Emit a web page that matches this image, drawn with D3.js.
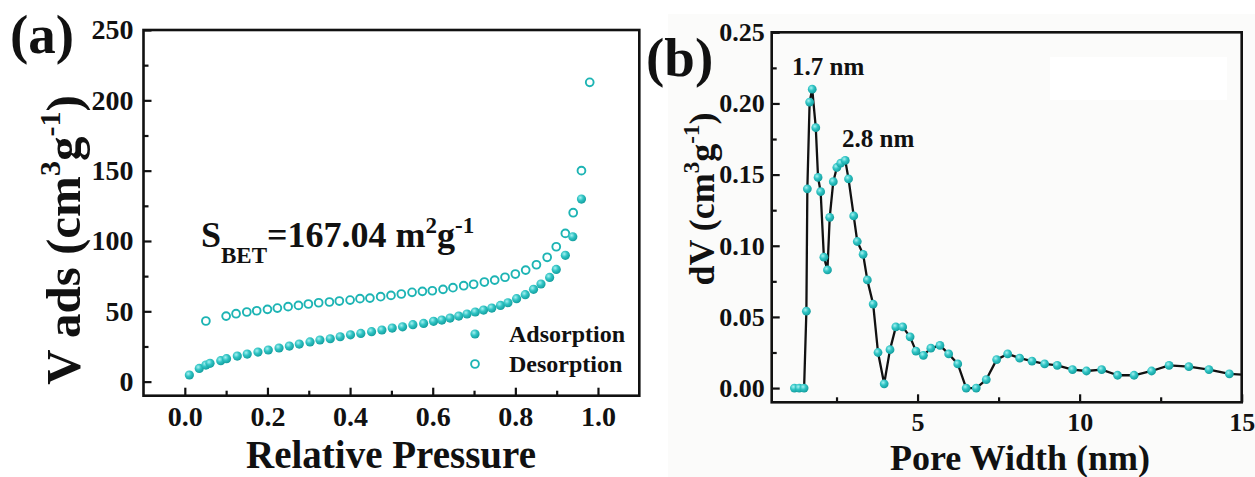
<!DOCTYPE html>
<html>
<head>
<meta charset="utf-8">
<script src="https://cdn.jsdelivr.net/npm/d3@7"></script>
<style>
  body { margin: 0; background: #fff; }
  svg { display: block; }
  text { font-family: "Liberation Serif", "Times New Roman", serif; font-weight: bold; fill: #111; }
</style>
</head>
<body>
<svg id="fig" width="1255" height="477"></svg>
<script>
// ---- (a) N2 isotherm ----
const adsP = [0.011,0.035,0.051,0.061,0.087,0.101,0.127,0.151,0.177,0.202,0.228,0.253,0.277,0.303,0.327,0.352,0.376,0.401,0.426,0.452,0.477,0.502,0.527,0.552,0.578,0.602,0.622,0.642,0.663,0.683,0.703,0.723,0.743,0.764,0.782,0.803,0.824,0.844,0.862,0.883,0.899,0.921,0.939,0.960];
const adsV = [4.7,9.4,11.8,13.0,14.9,16.3,18.2,19.6,21.0,22.5,23.9,25.3,26.7,28.2,29.6,30.5,31.9,33.3,34.3,35.5,36.7,38.1,39.0,40.5,41.4,42.9,43.8,45.2,46.6,48.1,49.5,50.9,52.3,54.2,56.1,59.0,61.8,65.6,69.4,74.1,79.8,89.8,103.0,129.8];
const desP = [0.051,0.100,0.124,0.150,0.174,0.200,0.224,0.250,0.275,0.299,0.324,0.350,0.374,0.400,0.424,0.448,0.474,0.499,0.524,0.550,0.575,0.599,0.625,0.649,0.675,0.699,0.725,0.750,0.775,0.800,0.825,0.851,0.877,0.899,0.921,0.940,0.960,0.980];
const desV = [43.1,46.6,48.3,49.5,50.4,51.4,52.3,53.3,54.2,55.2,56.1,56.6,57.3,58.0,59.0,59.4,60.4,61.3,62.3,63.5,64.2,64.6,65.6,66.8,68.2,69.2,70.8,72.2,74.2,76.5,79.3,83.1,88.4,95.9,105.4,120.1,150.0,212.8];
const isoXTicks = [0.0,0.2,0.4,0.6,0.8,1.0];
const isoXMinor = [0.1,0.3,0.5,0.7,0.9];
const isoYTicks = [0,50,100,150,200,250];
const isoYMinor = [25,75,125,175,225];
const legendNames = ["Adsorption","Desorption"];

// ---- (b) pore size distribution ----
const poreW = [1.20,1.35,1.50,1.57,1.60,1.67,1.75,1.86,1.93,2.01,2.11,2.22,2.29,2.40,2.51,2.63,2.77,2.87,3.03,3.14,3.32,3.45,3.63,3.78,3.97,4.15,4.33,4.54,4.77,4.95,5.18,5.41,5.69,5.96,6.24,6.50,6.81,7.12,7.44,7.78,8.15,8.53,8.92,9.31,9.78,10.21,10.68,11.17,11.68,12.22,12.76,13.37,13.99,14.62,15.25];
const poreDV = [0,0,0,0.054,0.140,0.201,0.210,0.183,0.148,0.138,0.092,0.083,0.120,0.145,0.155,0.158,0.160,0.147,0.121,0.103,0.094,0.076,0.059,0.025,0.003,0.027,0.043,0.043,0.036,0.026,0.023,0.028,0.030,0.024,0.017,0,0,0.006,0.020,0.024,0.021,0.019,0.017,0.016,0.013,0.012,0.013,0.009,0.009,0.012,0.016,0.015,0.013,0.010,0.009];
const psdXTicks = [5,10,15];
const psdXMinor = [2.5,7.5,12.5];
const psdYTicks = [0,0.05,0.10,0.15,0.20,0.25];
const psdYMinor = [0.025,0.075,0.125,0.175,0.225];
const peakLabels = ["1.7 nm","2.8 nm"];

const TEAL = "#1db4b4";
const svg = d3.select("#fig");

// sphere-like fill for solid markers
const defs = svg.append("defs");
const grad = defs.append("radialGradient").attr("id","ball")
  .attr("cx","0.38").attr("cy","0.35").attr("r","0.7");
grad.append("stop").attr("offset","0%").attr("stop-color","#a6f1f1");
grad.append("stop").attr("offset","45%").attr("stop-color","#30c4c4");
grad.append("stop").attr("offset","100%").attr("stop-color","#109a9a");

// very faint tinted backdrop behind panel (b)
svg.append("rect").attr("x",668).attr("y",14).attr("width",587).attr("height",463).attr("fill","#fbfbfa");
svg.append("rect").attr("x",1050).attr("y",57).attr("width",177).attr("height",43).attr("fill","#ffffff");

function frameAxes(g, x, y, opt) {
  const [x0, x1] = x.range();
  const [y0, y1] = y.range();
  const bottom = g.append("g").attr("transform",`translate(0,${y0})`)
    .call(d3.axisBottom(x).tickValues(opt.xTicks).tickFormat(opt.xFmt).tickSize(-8).tickPadding(10));
  bottom.select(".domain").remove();
  bottom.selectAll("text").attr("font-size", opt.fs).attr("font-family",null);
  const bMin = g.append("g").attr("transform",`translate(0,${y0})`)
    .call(d3.axisBottom(x).tickValues(opt.xMinor).tickFormat("").tickSize(-5));
  bMin.select(".domain").remove();

  const left = g.append("g").attr("transform",`translate(${x0},0)`)
    .call(d3.axisLeft(y).tickValues(opt.yTicks).tickFormat(opt.yFmt).tickSize(-8).tickPadding(opt.yPad));
  left.select(".domain").remove();
  left.selectAll("text").attr("font-size", opt.fs).attr("font-family",null);
  const lMin = g.append("g").attr("transform",`translate(${x0},0)`)
    .call(d3.axisLeft(y).tickValues(opt.yMinor).tickFormat("").tickSize(-5));
  lMin.select(".domain").remove();

  g.selectAll(".tick line").attr("stroke","#111").attr("stroke-width",2.2);
  g.selectAll(".tick text").attr("fill","#111");
  g.append("rect").attr("x",x0).attr("y",y1).attr("width",x1-x0).attr("height",y0-y1)
    .attr("fill","none").attr("stroke","#111").attr("stroke-width",2.6);
}

// ================= panel (a) =================
const xa = d3.scaleLinear().domain([-0.1,1.1]).range([143.5,639.3]);
const ya = d3.scaleLinear().domain([-10,250]).range([395.7,30]);
const ga = svg.append("g");
frameAxes(ga, xa, ya, {xTicks: isoXTicks, xMinor: isoXMinor, xFmt: d3.format(".1f"),
  yTicks: isoYTicks, yMinor: isoYMinor, yFmt: d3.format("d"), fs: 28, yPad: 10});

const adsData = adsP.map((p,i)=>({p, v: adsV[i]}));
const desData = desP.map((p,i)=>({p, v: desV[i]}));
ga.append("g").selectAll("circle").data(desData).join("circle")
  .attr("cx",d=>xa(d.p)).attr("cy",d=>ya(d.v)).attr("r",3.9)
  .attr("fill","#fff").attr("stroke",TEAL).attr("stroke-width",1.9);
ga.append("g").selectAll("circle").data(adsData).join("circle")
  .attr("cx",d=>xa(d.p)).attr("cy",d=>ya(d.v)).attr("r",4.6)
  .attr("fill","url(#ball)");

// legend
const leg = ga.append("g");
leg.append("circle").attr("cx",475).attr("cy",334).attr("r",4.6).attr("fill","url(#ball)");
leg.append("circle").attr("cx",475).attr("cy",364).attr("r",3.9).attr("fill","#fff").attr("stroke",TEAL).attr("stroke-width",1.9);
leg.append("text").attr("x",509).attr("y",342).attr("font-size",24).text(legendNames[0]);
leg.append("text").attr("x",509).attr("y",372).attr("font-size",24).text(legendNames[1]);

// surface-area annotation
const sb = ga.append("text").attr("x",201).attr("y",247).attr("font-size",36);
sb.append("tspan").text("S");
sb.append("tspan").attr("font-size",23).attr("dy",16).text("BET");
sb.append("tspan").attr("dy",-16).text("=167.04 m");
sb.append("tspan").attr("font-size",23).attr("dy",-14).text("2");
sb.append("tspan").attr("dy",14).text("g");
sb.append("tspan").attr("font-size",23).attr("dy",-14).text("-1");

// axis titles
ga.append("text").attr("x",391).attr("y",468).attr("text-anchor","middle").attr("font-size",39).text("Relative Pressure");
const yta = ga.append("text").attr("transform","translate(80,240) rotate(-90)").attr("text-anchor","middle").attr("font-size",49);
yta.append("tspan").text("V ads (cm");
yta.append("tspan").attr("font-size",30).attr("dy",-20).text("3");
yta.append("tspan").attr("dy",20).text("g");
yta.append("tspan").attr("font-size",30).attr("dy",-20).text("-1");
yta.append("tspan").attr("dy",20).text(")");
ga.append("text").attr("x",10).attr("y",53).attr("font-size",55).text("(a)");

// ================= panel (b) =================
const xb = d3.scaleLinear().domain([0.5,15]).range([771.7,1241.7]);
const yb = d3.scaleLinear().domain([-0.01,0.25]).range([402.3,32.3]);
const gb = svg.append("g");
defs.append("clipPath").attr("id","clipB").append("rect")
  .attr("x",771.7).attr("y",32.3).attr("width",470).attr("height",370);

frameAxes(gb, xb, yb, {xTicks: psdXTicks, xMinor: psdXMinor, xFmt: d3.format("d"),
  yTicks: psdYTicks, yMinor: psdYMinor, yFmt: d3.format(".2f"), fs: 26, yPad: 7});

const psd = poreW.map((w,i)=>({w, v: poreDV[i]}));
const plotB = gb.append("g").attr("clip-path","url(#clipB)");
plotB.append("path").datum(psd)
  .attr("d", d3.line().x(d=>xb(d.w)).y(d=>yb(d.v)))
  .attr("fill","none").attr("stroke","#111").attr("stroke-width",2.3).attr("stroke-linejoin","round");
plotB.append("g").selectAll("circle").data(psd).join("circle")
  .attr("cx",d=>xb(d.w)).attr("cy",d=>yb(d.v)).attr("r",4.4)
  .attr("fill","url(#ball)");

gb.append("text").attr("x",792).attr("y",75).attr("font-size",25).text(peakLabels[0]);
gb.append("text").attr("x",842).attr("y",147).attr("font-size",25).text(peakLabels[1]);

gb.append("text").attr("x",1020).attr("y",470).attr("text-anchor","middle").attr("font-size",36).text("Pore Width (nm)");
const ytb = gb.append("text").attr("transform","translate(714,199) rotate(-90)").attr("text-anchor","middle").attr("font-size",36);
ytb.append("tspan").text("dV (cm");
ytb.append("tspan").attr("font-size",23).attr("dy",-15).text("3");
ytb.append("tspan").attr("dy",15).text("g");
ytb.append("tspan").attr("font-size",23).attr("dy",-15).text("-1");
ytb.append("tspan").attr("dy",15).text(")");
gb.append("text").attr("x",646).attr("y",76).attr("font-size",55).text("(b)");
</script>
</body>
</html>
